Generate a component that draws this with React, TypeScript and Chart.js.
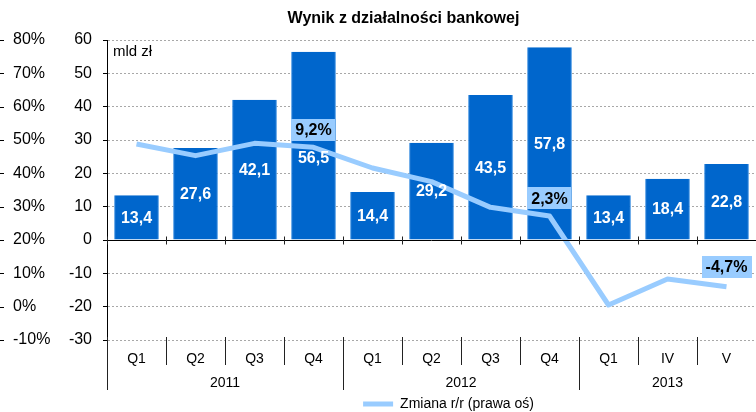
import React, { useEffect, useRef } from 'react';
import { Chart, registerables } from 'chart.js';

Chart.register(...registerables);

const categories = ['Q1', 'Q2', 'Q3', 'Q4', 'Q1', 'Q2', 'Q3', 'Q4', 'Q1', 'IV', 'V'];
const bankResult = [13.4, 27.6, 42.1, 56.5, 14.4, 29.2, 43.5, 57.8, 13.4, 18.4, 22.8];
const yoyChange = [48.8, 45.3, 49.0, 47.8, 41.6, 37.5, 29.8, 27.2, 0.5, 8.3, 6.0];
const yearLabels = ['2011', '2012', '2013'];
const yearCenters = [1.5, 5.5, 9];
const yearBoundaries = [0, 4, 8, 11];
const calloutTexts = ['9,2%', '2,3%', '-4,7%'];
const calloutIndex = [3, 7, 10];
const calloutValue = [33, 12.5, -8];
const mldTicks = { min: -30, max: 60, step: 10 };
const pctTicks = { min: -10, max: 80, step: 10 };

const FONT = '"Liberation Sans", Arial, Helvetica, sans-serif';
const BAR_BLUE = '#0066CC';
const LINE_BLUE = '#99CCFF';

const decorPlugin = {
  id: 'decor',
  afterLayout(chart: any) {
    const lg = chart.legend;
    if (lg) {
      lg.left += 61;
      lg.right += 61;
    }
    const tb = chart.titleBlock;
    if (tb) {
      tb.left += 16;
      tb.right += 16;
    }
  },
  afterDatasetsDraw(chart: any) {
    const ctx = chart.ctx;
    const xs = chart.scales.x;
    const ys = chart.scales.y;
    const yp = chart.scales.yP;
    const area = chart.chartArea;
    const y0 = Math.round(ys.getPixelForValue(0)) + 0.5;
    ctx.save();
    ctx.setLineDash([]);
    ctx.lineWidth = 1;

    // small tick marks of the percent axis
    ctx.strokeStyle = '#000';
    ctx.beginPath();
    yp.ticks.forEach((t: any) => {
      const py = Math.round(yp.getPixelForValue(t.value)) + 0.5;
      ctx.moveTo(0, py);
      ctx.lineTo(4, py);
    });
    ctx.stroke();

    // zero baseline
    ctx.strokeStyle = '#000';
    ctx.beginPath();
    ctx.moveTo(area.left, y0);
    ctx.lineTo(area.right, y0);
    ctx.stroke();

    // category boundaries: ticks on zero line + dividers below plot
    ctx.strokeStyle = '#222';
    ctx.beginPath();
    for (let b = 0; b <= categories.length; b++) {
      const px = Math.round(xs.getPixelForValue(b - 0.5)) + 0.5;
      ctx.moveTo(px, y0 - 4);
      ctx.lineTo(px, y0 + 4);
      const isYear = yearBoundaries.includes(b);
      ctx.moveTo(px, area.bottom - 3);
      ctx.lineTo(px, area.bottom + (isYear ? 50 : 25));
    }
    ctx.stroke();

    // year group labels
    ctx.fillStyle = '#000';
    ctx.font = `14px ${FONT}`;
    ctx.textAlign = 'center';
    ctx.textBaseline = 'middle';
    yearLabels.forEach((yl, k) => {
      ctx.fillText(yl, xs.getPixelForValue(yearCenters[k]), area.bottom + 43);
    });

    // unit label
    ctx.font = `15px ${FONT}`;
    ctx.textAlign = 'left';
    ctx.fillText('mld zł', area.left + 6, area.top + 12);

    // callout boxes
    ctx.font = `bold 16px ${FONT}`;
    ctx.textAlign = 'center';
    const boxes: { cx: number; cy: number; h: number; idx: number }[] = [];
    calloutTexts.forEach((t, k) => {
      const cx = xs.getPixelForValue(calloutIndex[k]);
      const cy = ys.getPixelForValue(calloutValue[k]);
      const w = ctx.measureText(t).width + 8;
      const h = 22;
      ctx.fillStyle = LINE_BLUE;
      ctx.fillRect(Math.round(cx - w / 2), Math.round(cy - h / 2), Math.round(w), h);
      ctx.fillStyle = '#000';
      ctx.fillText(t, cx, cy + 1);
      boxes.push({ cx, cy, h, idx: calloutIndex[k] });
    });

    // bar value labels
    const meta = chart.getDatasetMeta(1);
    ctx.fillStyle = '#fff';
    meta.data.forEach((bar: any, i: number) => {
      const p = bar.getProps(['x', 'y', 'base'], true);
      let ly = (p.y + p.base) / 2;
      boxes.forEach((bx) => {
        if (bx.idx === i && Math.abs(ly - bx.cy) < bx.h / 2 + 10) {
          ly = bx.cy + bx.h / 2 + 17;
        }
      });
      ctx.fillText(bankResult[i].toFixed(1).replace('.', ','), p.x, ly + 1);
    });
    ctx.restore();
  },
};

export default function App() {
  const ref = useRef<HTMLCanvasElement>(null);
  useEffect(() => {
    document.body.style.margin = '0';
    Chart.defaults.font.family = FONT;
    Chart.defaults.color = '#000';
    const chart = new Chart(ref.current as HTMLCanvasElement, {
      type: 'bar',
      data: {
        labels: categories,
        datasets: [
          {
            type: 'line',
            label: 'Zmiana r/r (prawa oś)',
            data: yoyChange,
            yAxisID: 'yP',
            xAxisID: 'x',
            borderColor: LINE_BLUE,
            backgroundColor: LINE_BLUE,
            borderWidth: 5,
            pointRadius: 0,
            pointStyle: 'line',
            tension: 0,
            borderJoinStyle: 'round',
            order: 0,
          } as any,
          {
            type: 'bar',
            label: 'Wynik',
            data: bankResult,
            yAxisID: 'y',
            xAxisID: 'x',
            backgroundColor: BAR_BLUE,
            borderColor: '#5aa0e6',
            borderWidth: { left: 1, right: 1, top: 0, bottom: 0 },
            borderSkipped: false,
            categoryPercentage: 1,
            barPercentage: 0.76,
            order: 1,
          } as any,
        ],
      },
      options: {
        responsive: false,
        animation: false,
        layout: { padding: { left: 13, right: -6, top: 0, bottom: 0 } },
        plugins: {
          title: {
            display: true,
            text: 'Wynik z działalności bankowej',
            color: '#000',
            font: { size: 16, weight: 'bold', family: FONT },
            padding: { top: 9.4, bottom: 11.4 },
          },
          legend: {
            display: true,
            position: 'bottom',
            maxHeight: 16,
            labels: {
              usePointStyle: true,
              pointStyle: 'line',
              pointStyleWidth: 30,
              padding: 1,
              color: '#000',
              font: { size: 14, family: FONT },
              filter: (item: any) => item.datasetIndex === 0,
            },
          },
          tooltip: { enabled: false },
        },
        scales: {
          x: {
            type: 'category',
            position: 'bottom',
            weight: 0,
            grid: { display: false },
            border: { display: false },
            ticks: { padding: 3, autoSkip: false, maxRotation: 0, font: { size: 14 }, color: '#000' },
            afterFit: (s: any) => {
              s.height = 56;
            },
          },
          y: {
            type: 'linear',
            position: 'left',
            weight: 0,
            min: mldTicks.min,
            max: mldTicks.max,
            ticks: { stepSize: mldTicks.step, padding: 11, font: { size: 16 }, color: '#000' },
            grid: {
              color: '#a8a8a8',
              lineWidth: 1,
              tickLength: 4,
              tickColor: '#000',
              tickBorderDash: [],
            },
            border: { display: true, color: '#000', width: 1, dash: [2, 2] },
            afterFit: (s: any) => {
              s.width = 43;
            },
          },
          yP: {
            type: 'linear',
            position: 'left',
            weight: 1,
            min: pctTicks.min,
            max: pctTicks.max,
            ticks: {
              stepSize: pctTicks.step,
              crossAlign: 'far',
              padding: 0,
              font: { size: 16 },
              color: '#000',
              callback: (v: any) => `${v}%`,
            },
            grid: { display: false },
            border: { display: false },
            afterFit: (s: any) => {
              s.width = 51;
            },
          },
        },
      } as any,
      plugins: [decorPlugin],
    });
    return () => chart.destroy();
  }, []);
  return (
    <div style={{ width: 756, height: 412 }}>
      <canvas ref={ref} width={756} height={412} style={{ display: 'block' }} />
    </div>
  );
}
